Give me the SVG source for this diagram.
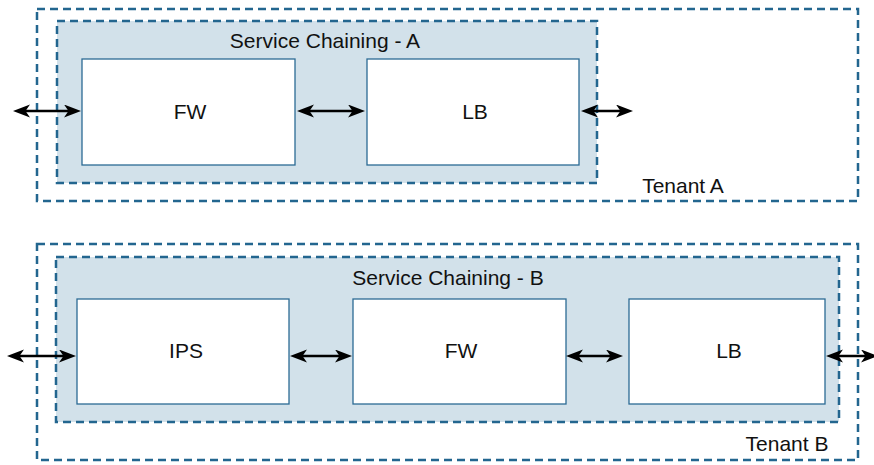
<svg xmlns="http://www.w3.org/2000/svg" width="874" height="465" viewBox="0 0 874 465">
<style>
.tenant{fill:none;stroke:#23668F;stroke-width:2.5;stroke-dasharray:8 5}
.chain{fill:#D2E1EA;stroke:#23668F;stroke-width:2.5;stroke-dasharray:8 5}
.node{fill:#FFFFFF;stroke:#2B6A94;stroke-width:1.3}
.lbl{font-family:"Liberation Sans",Arial,Helvetica,sans-serif;font-size:21px;fill:#111111;text-anchor:middle}
.conn{stroke:#000000;stroke-width:2.4;fill:none;marker-start:url(#ah);marker-end:url(#ah)}
</style>
<defs>
<marker id="ah" markerUnits="userSpaceOnUse" markerWidth="18" markerHeight="14" refX="11" refY="6.5" orient="auto-start-reverse">
<path d="M0,0 L17,6.5 L0,13 L4.5,6.5 Z" fill="#000000"/>
</marker>
</defs>
<g id="tenantA">
<rect class="tenant" x="37" y="9" width="821" height="192"/>
<text class="lbl" x="683" y="193">Tenant A</text>
</g>
<g id="chainA">
<rect class="chain" x="57" y="21" width="540" height="162"/>
<text class="lbl" x="325" y="48">Service Chaining - A</text>
</g>
<g id="fwA">
<rect class="node" x="82" y="59" width="213" height="106"/>
<text class="lbl" x="190" y="119">FW</text>
</g>
<g id="lbA">
<rect class="node" x="367" y="59" width="212" height="106"/>
<text class="lbl" x="475" y="119">LB</text>
</g>
<g id="tenantB">
<rect class="tenant" x="37" y="244" width="821" height="216"/>
<text class="lbl" x="787" y="451">Tenant B</text>
</g>
<g id="chainB">
<rect class="chain" x="56" y="257" width="783" height="165"/>
<text class="lbl" x="448" y="285">Service Chaining - B</text>
</g>
<g id="ipsB">
<rect class="node" x="77" y="299" width="212" height="105"/>
<text class="lbl" x="186" y="358">IPS</text>
</g>
<g id="fwB">
<rect class="node" x="353" y="299" width="213" height="105"/>
<text class="lbl" x="461" y="358">FW</text>
</g>
<g id="lbB">
<rect class="node" x="629" y="299" width="196" height="105"/>
<text class="lbl" x="729" y="358">LB</text>
</g>
<g id="connectors">
<line class="conn" x1="19" y1="111" x2="75" y2="111"/>
<line class="conn" x1="303" y1="111" x2="359" y2="111"/>
<line class="conn" x1="587" y1="111" x2="627" y2="111"/>
<line class="conn" x1="13" y1="356" x2="70" y2="356"/>
<line class="conn" x1="296" y1="356" x2="346" y2="356"/>
<line class="conn" x1="572" y1="356" x2="617" y2="356"/>
<line class="conn" x1="832" y1="356" x2="872" y2="356"/>
</g>
</svg>
